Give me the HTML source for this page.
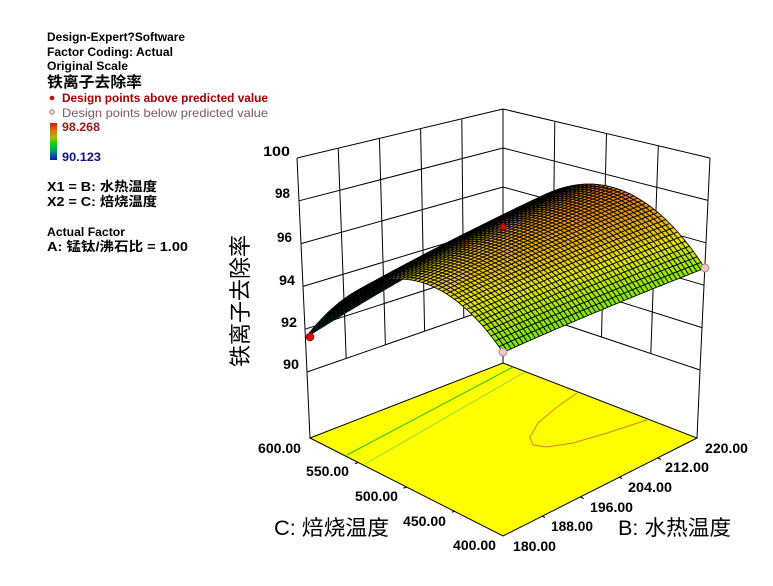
<!DOCTYPE html>
<html><head><meta charset="utf-8">
<style>
html,body{margin:0;padding:0;background:#fff;}
svg{display:block}
text{font-family:"Liberation Sans","Noto Sans CJK SC",sans-serif;}
</style></head>
<body>
<svg id="s" width="773" height="586" viewBox="0 0 773 586" xmlns="http://www.w3.org/2000/svg">
<defs>
<linearGradient id="lg" x1="0" y1="0" x2="0" y2="1">
<stop offset="0" stop-color="#c81a10"/>
<stop offset="0.2" stop-color="#e07010"/>
<stop offset="0.4" stop-color="#a0c000"/>
<stop offset="0.55" stop-color="#10d010"/>
<stop offset="0.75" stop-color="#00a060"/>
<stop offset="1" stop-color="#1010d0"/>
</linearGradient>
</defs>
<rect width="773" height="586" fill="#fff"/>
<path id="walls" fill="none" stroke="#000" stroke-width="1"/>
<polygon points="310,438 503,363 697,438 503,536" fill="#ffff00" stroke="#000" stroke-width="1"/>
<path d="M347 455 L513 367" stroke="#20c020" stroke-width="1" fill="none"/>
<path d="M365 464 L525 372" stroke="#90d840" stroke-width="1" fill="none"/>
<polyline points="577,393 557,407 538,423 530,437 533,445 547,447 573,443 607,433 647,420" stroke="#e08020" stroke-width="1" fill="none"/>
<path d="M358 462.5 l-3 1.2 M406.5 487 l-3 1.2 M455 511 l-3 1.2 M542 516 l3 1.5 M580.6 497 l3 1.5 M619 477 l3 1.5 M658 458 l3 1.5" stroke="#000" stroke-width="1.2" fill="none"/>
<g id="surf"></g>
<line x1="503" y1="352" x2="503" y2="363" stroke="#000" stroke-width="1"/>
<circle cx="310" cy="337" r="4" fill="#e00000" stroke="#800000" stroke-width="0.6"/>
<circle cx="503" cy="227" r="3" fill="#e00000" stroke="#800000" stroke-width="0.6"/>
<circle cx="503" cy="352" r="4" fill="#f2c4c4" stroke="#a08080" stroke-width="0.8"/>
<circle cx="705" cy="268" r="4" fill="#f2c4c4" stroke="#a08080" stroke-width="0.8"/>

<g font-weight="bold" font-size="12" fill="#000">
<text x="47" y="41" textLength="138" lengthAdjust="spacingAndGlyphs">Design-Expert?Software</text>
<text x="47" y="56" textLength="126" lengthAdjust="spacingAndGlyphs">Factor Coding: Actual</text>
<text x="47" y="70" textLength="81" lengthAdjust="spacingAndGlyphs">Original Scale</text>
<text x="47" y="87" font-size="15" textLength="95" lengthAdjust="spacingAndGlyphs">铁离子去除率</text>
<text x="62" y="102" fill="#a80000" textLength="206" lengthAdjust="spacingAndGlyphs">Design points above predicted value</text>
<text x="62" y="117" fill="#7a5a64" font-weight="normal" textLength="206" lengthAdjust="spacingAndGlyphs">Design points below predicted value</text>
<text x="62" y="131" fill="#a01818" textLength="38" lengthAdjust="spacingAndGlyphs">98.268</text>
<text x="62" y="161" fill="#10108c" textLength="39" lengthAdjust="spacingAndGlyphs">90.123</text>
<text x="47" y="191" font-size="13" textLength="110" lengthAdjust="spacingAndGlyphs">X1 = B: 水热温度</text>
<text x="47" y="206" font-size="13" textLength="110" lengthAdjust="spacingAndGlyphs">X2 = C: 焙烧温度</text>
<text x="47" y="236" textLength="78" lengthAdjust="spacingAndGlyphs">Actual Factor</text>
<text x="47" y="251" font-size="13" textLength="141" lengthAdjust="spacingAndGlyphs">A: 锰钛/沸石比 = 1.00</text>
</g>
<circle cx="52" cy="98" r="2.3" fill="#d00000"/>
<circle cx="52" cy="112" r="2.3" fill="#f4d0d8" stroke="#907080" stroke-width="0.8"/>
<rect x="50" y="123" width="7" height="37" fill="url(#lg)"/>

<g font-weight="bold" font-size="14" fill="#000">
<text x="263" y="156" textLength="27" lengthAdjust="spacingAndGlyphs">100</text>
<text x="275" y="198" textLength="15" lengthAdjust="spacingAndGlyphs">98</text>
<text x="277" y="242" textLength="15" lengthAdjust="spacingAndGlyphs">96</text>
<text x="279" y="285" textLength="16" lengthAdjust="spacingAndGlyphs">94</text>
<text x="281" y="327" textLength="16" lengthAdjust="spacingAndGlyphs">92</text>
<text x="283" y="369" textLength="16" lengthAdjust="spacingAndGlyphs">90</text>
<text x="258" y="453" textLength="43" lengthAdjust="spacingAndGlyphs">600.00</text>
<text x="306" y="476" textLength="43" lengthAdjust="spacingAndGlyphs">550.00</text>
<text x="355" y="501" textLength="43" lengthAdjust="spacingAndGlyphs">500.00</text>
<text x="403" y="526" textLength="43" lengthAdjust="spacingAndGlyphs">450.00</text>
<text x="453" y="550" textLength="43" lengthAdjust="spacingAndGlyphs">400.00</text>
<text x="705" y="453" textLength="43" lengthAdjust="spacingAndGlyphs">220.00</text>
<text x="665" y="472" textLength="44" lengthAdjust="spacingAndGlyphs">212.00</text>
<text x="628" y="492" textLength="44" lengthAdjust="spacingAndGlyphs">204.00</text>
<text x="590" y="512" textLength="43" lengthAdjust="spacingAndGlyphs">196.00</text>
<text x="551" y="531" textLength="42" lengthAdjust="spacingAndGlyphs">188.00</text>
<text x="513" y="551" textLength="43" lengthAdjust="spacingAndGlyphs">180.00</text>
</g>
<text x="274" y="535" font-size="21" fill="#000" textLength="115" lengthAdjust="spacingAndGlyphs">C: 焙烧温度</text>
<text x="618" y="535" font-size="21" fill="#000" textLength="113" lengthAdjust="spacingAndGlyphs">B: 水热温度</text>
<text transform="translate(248,301) rotate(-90)" text-anchor="middle" font-size="22" fill="#000" textLength="132" lengthAdjust="spacingAndGlyphs">铁离子去除率</text>
</svg>
<script>
(function(){
function f(u,v){var a=2*u-1,b=2*v-1;return 96.8+0.695*a+0.905*b-0.545*a*b-0.055*a*a-3*b*b;}
var T=[[297,158],[503,109],[503,222],[710,158]];
var B=[[307,372],[503,304],[503,459],[700,370]];
var FL=[[310,438],[503,363],[503,536],[697,438]];
function bil(c,u,v,k){return (1-u)*(1-v)*c[0][k]+u*(1-v)*c[1][k]+(1-u)*v*c[2][k]+u*v*c[3][k];}
function P(u,v,z){var s=(z-90)/10;var bx=bil(B,u,v,0),by=bil(B,u,v,1);return [bx+s*(bil(T,u,v,0)-bx),by+s*(bil(T,u,v,1)-by)];}
function r(n){return n.toFixed(1);}
var d='';
function L(a,b){d+='M'+r(a[0])+' '+r(a[1])+'L'+r(b[0])+' '+r(b[1]);}
var i,j,z;
for(i=0;i<=5;i++){L(P(i/5,0,100),P(i/5,0,90));}
for(z=90;z<=100;z+=2){L(P(0,0,z),P(1,0,z));}
for(j=0;j<=4;j++){L(P(1,j/4,100),P(1,j/4,90));}
for(z=90;z<=100;z+=2){L(P(1,0,z),P(1,1,z));}
L(P(0,0,90),FL[0]);L(P(1,0,90),FL[1]);L(P(1,1,90),FL[3]);
document.getElementById('walls').setAttribute('d',d);
var HS=[[0,240],[0.25,180],[0.45,125],[0.55,90],[0.72,58],[0.9,30],[1,10]];
function hue(t){for(var k=1;k<HS.length;k++){if(t<=HS[k][0]){var a=HS[k-1],b=HS[k];return a[1]+(b[1]-a[1])*(t-a[0])/(b[0]-a[0]);}}return 10;}
var N=50,q=[],zmin=90.123,zmax=98.268;
var G=[];
for(i=0;i<=N;i++){G[i]=[];for(j=0;j<=N;j++){var zz=f(i/N,j/N);G[i][j]={p:P(i/N,j/N,zz),q:P(i/N,j/N,95),z:zz};}}
for(i=0;i<N;i++)for(j=0;j<N;j++){
 var a=G[i][j],b=G[i+1][j],c=G[i+1][j+1],e=G[i][j+1];
 var ax=b.p[0]-a.p[0],ay=b.p[1]-a.p[1],bx=e.p[0]-a.p[0],by=e.p[1]-a.p[1];
 var cr=ax*by-ay*bx;
 var fx=b.q[0]-a.q[0],fy=b.q[1]-a.q[1],gx=e.q[0]-a.q[0],gy=e.q[1]-a.q[1];
 var cr0=fx*gy-fy*gx;
 var ratio=Math.min(1,Math.abs(cr)/cr0);
 var zc=(a.z+b.z+c.z+e.z)/4;
 var t=Math.max(0,Math.min(1,(zc-zmin)/(zmax-zmin)));
 var h=hue(t);
 var lt=cr>0?46*(0.3+0.7*Math.pow(ratio,0.8)):16;
 var fill='hsl('+h.toFixed(0)+',95%,'+lt.toFixed(1)+'%)';
 q.push({k:(i+0.5)/N-(j+0.5)/N,s:'<path d="M'+r(a.p[0])+' '+r(a.p[1])+'L'+r(b.p[0])+' '+r(b.p[1])+'L'+r(c.p[0])+' '+r(c.p[1])+'L'+r(e.p[0])+' '+r(e.p[1])+'Z" fill="'+fill+'"/>'});
}
q.sort(function(x,y){return y.k-x.k;});
var s='';for(i=0;i<q.length;i++)s+=q[i].s;
var g=document.getElementById('surf');
g.setAttribute('stroke','#000');g.setAttribute('stroke-width','0.85');g.setAttribute('stroke-linejoin','round');
g.innerHTML=s;
})();
</script>
</body></html>
